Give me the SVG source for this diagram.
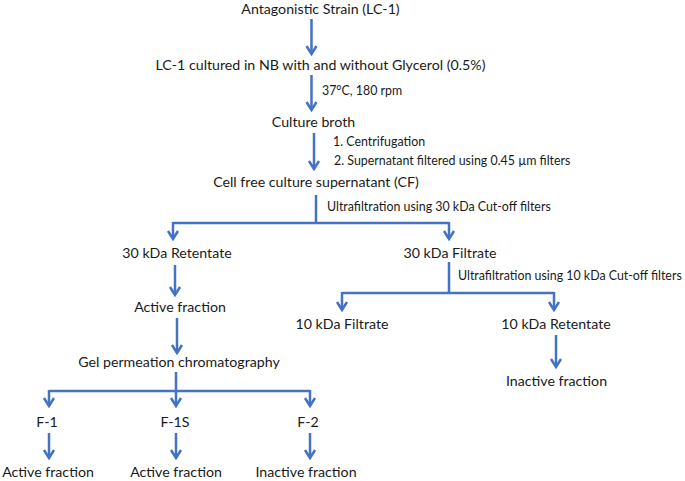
<svg xmlns="http://www.w3.org/2000/svg" width="685" height="481" viewBox="0 0 685 481">
<style>
.t{font-family:Lato,"Open Sans","Liberation Sans",sans-serif;font-size:14.2px;fill:#1a1a1a;text-anchor:middle}
.s{font-family:Lato,"Open Sans","Liberation Sans",sans-serif;font-size:12.4px;fill:#1a1a1a;text-anchor:start}
.c{fill:none;stroke:#4472C4;stroke-width:2.5}
.a{marker-end:url(#ah)}
</style>
<defs>
<marker id="ah" markerUnits="userSpaceOnUse" viewBox="-12 -8 14 16" markerWidth="14" markerHeight="16" refX="0" refY="0" orient="auto">
<path d="M-8,-5 L0,0 L-8,5" fill="none" stroke="#4472C4" stroke-width="2.5" stroke-linejoin="miter"/>
</marker>
</defs>
<rect width="685" height="481" fill="#ffffff"/>
<g id="connectors">
<path class="c a" d="M311.5,19 V54"/>
<path class="c a" d="M311.5,75 V110"/>
<path class="c a" d="M314,133 V169"/>
<path class="c" d="M316,195 V223 M173,223 H449"/>
<path class="c a" d="M173,222 V239"/>
<path class="c a" d="M449,222 V239"/>
<path class="c a" d="M175,265 V295"/>
<path class="c a" d="M177,318 V353"/>
<path class="c" d="M176,372 V391 M49,391 H310"/>
<path class="c a" d="M49,390 V406"/>
<path class="c a" d="M176,390 V406"/>
<path class="c a" d="M310,390 V406"/>
<path class="c a" d="M49,433 V458"/>
<path class="c a" d="M176,433 V458"/>
<path class="c a" d="M310,433 V458"/>
<path class="c" d="M449,262 V293 M342,293 H554"/>
<path class="c a" d="M342,292 V310"/>
<path class="c a" d="M554,292 V310"/>
<path class="c a" d="M556,335 V367"/>
</g>
<g id="n-strain"><text class="t" x="320.5" y="14">Antagonistic Strain (LC-1)</text></g>
<g id="n-cultured"><text class="t" x="320.5" y="70">LC-1 cultured in NB with and without Glycerol (0.5%)</text></g>
<g id="l-cond"><text class="s" x="322" y="95">37°C, 180 rpm</text></g>
<g id="n-broth"><text class="t" x="313.5" y="127">Culture broth</text></g>
<g id="l-centri"><text class="s" x="333" y="146">1. Centrifugation</text><text class="s" x="334" y="165">2. Supernatant filtered using 0.45 µm filters</text></g>
<g id="n-cf"><text class="t" x="316" y="187">Cell free culture supernatant (CF)</text></g>
<g id="l-uf30"><text class="s" x="327" y="211">Ultrafiltration using 30 kDa Cut-off filters</text></g>
<g id="n-ret30"><text class="t" x="177" y="258">30 kDa Retentate</text></g>
<g id="n-fil30"><text class="t" x="450" y="258">30 kDa Filtrate</text></g>
<g id="n-active1"><text class="t" x="180" y="312">Active fraction</text></g>
<g id="n-gel"><text class="t" x="179" y="367">Gel permeation chromatography</text></g>
<g id="n-f1"><text class="t" x="47" y="427">F-1</text></g>
<g id="n-f1s"><text class="t" x="175" y="427">F-1S</text></g>
<g id="n-f2"><text class="t" x="308" y="427">F-2</text></g>
<g id="n-f1a"><text class="t" x="48" y="477">Active fraction</text></g>
<g id="n-f1sa"><text class="t" x="176" y="477">Active fraction</text></g>
<g id="n-f2i"><text class="t" x="306" y="477">Inactive fraction</text></g>
<g id="l-uf10"><text class="s" x="458" y="280">Ultrafiltration using 10 kDa Cut-off filters</text></g>
<g id="n-fil10"><text class="t" x="342" y="329">10 kDa Filtrate</text></g>
<g id="n-ret10"><text class="t" x="556" y="329">10 kDa Retentate</text></g>
<g id="n-inactive"><text class="t" x="556.5" y="386">Inactive fraction</text></g>
</svg>
